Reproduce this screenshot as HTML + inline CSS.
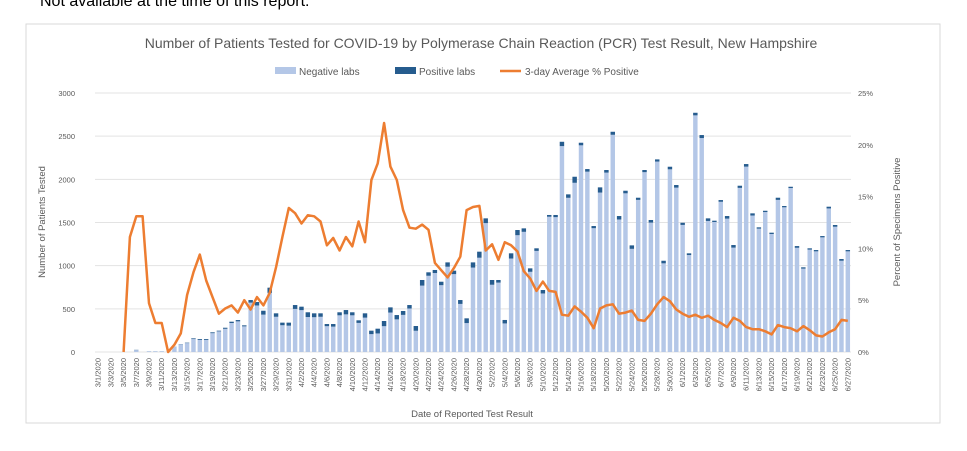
<!DOCTYPE html>
<html><head><meta charset="utf-8"><style>
body{margin:0;background:#fff;width:967px;height:451px;overflow:hidden;font-family:"Liberation Sans",sans-serif;}
svg{position:absolute;left:0;top:0}
</style></head><body>
<svg id="c" width="967" height="451" font-family="Liberation Sans, sans-serif">
<text x="40" y="6" font-size="16" fill="#000">Not available at the time of this report.</text>
<rect x="26" y="24" width="914" height="399" fill="#fff" stroke="#d9d9d9"/>
<text x="481" y="48" font-size="14" fill="#595959" text-anchor="middle">Number of Patients Tested for COVID-19 by Polymerase Chain Reaction (PCR) Test Result, New Hampshire</text>
<g>
<rect x="275" y="67" width="21" height="7" fill="#b4c7e7"/>
<text x="299" y="75" font-size="10" fill="#595959">Negative labs</text>
<rect x="395" y="67" width="21" height="7" fill="#265c8e"/>
<text x="419" y="75" font-size="10" fill="#595959">Positive labs</text>
<line x1="500" y1="71" x2="521" y2="71" stroke="#ed7d31" stroke-width="2.5"/>
<text x="525" y="75" font-size="10" fill="#595959">3-day Average % Positive</text>
</g>
<text transform="translate(45,222) rotate(-90)" font-size="9.5" fill="#595959" text-anchor="middle">Number of Patients Tested</text>
<text transform="translate(900,222) rotate(-90)" font-size="9.5" fill="#595959" text-anchor="middle">Percent of Specimens Positive</text>
<text x="472" y="417" font-size="9.5" fill="#595959" text-anchor="middle">Date of Reported Test Result</text>
<g id="grid"></g><g id="bars"></g><g id="line"></g><g id="ticks"></g>
</svg>
<script>
const totals=[0,0,0,0,0,0,25,0,8,8,8,0,
60,90,108,158,150,150,228,247,281,351,370,309,
602,579,478,745,448,340,340,544,525,460,448,448,324,324,460,486,460,367,448,247,270,359,517,428,475,544,301,
834,923,950,814,1038,942,602,390,1038,1162,1548,834,834,371,1143,1413,1432,969,1201,718,1587,1587,2435,1826,2030,2424,2119,1459,1907,2108,2551,1575,1868,1235,1787,2108,1529,2231,1057,2146,1934,1497,1143,2771,2513,
1548,1521,1760,1575,1239,1926,2177,1606,1444,1636,1382,1787,1691,1914,1227,981,1201,1181,1343,1683,1471,1077,1181];
const positives=[0,0,0,0,0,0,3,0,1,1,1,0,
2,3,5,8,10,10,10,8,12,15,15,12,
30,40,45,60,40,30,35,45,40,55,45,40,25,30,35,50,35,30,50,40,55,60,60,50,45,40,55,
65,40,35,40,50,40,45,55,60,70,55,55,30,40,60,60,40,40,30,40,20,25,
50,40,70,30,30,25,60,30,35,40,30,40,25,25,30,25,30,30,30,25,20,30,35,
30,15,20,30,30,25,30,25,15,15,15,25,15,15,20,15,15,15,15,20,20,20,15];
const pctAvg=[null,null,null,null,0,11.1,13.1,13.1,4.7,2.8,2.8,0,
0.7,1.8,5.5,7.7,9.4,6.9,5.3,3.7,4.2,4.5,3.8,5.0,4.1,5.3,4.5,5.7,8.2,11.1,13.9,13.4,12.4,13.2,13.1,12.6,10.3,11.0,9.8,11.1,10.2,12.6,10.6,16.6,18.2,22.1,17.9,16.6,13.7,12.0,11.9,
12.3,11.8,8.6,7.9,7.2,8.1,9.2,13.7,14.0,14.1,9.8,10.4,8.9,10.6,10.3,9.7,7.8,7.1,5.9,6.8,5.9,5.8,3.6,3.5,4.4,3.9,3.3,2.3,4.2,4.5,4.6,3.7,3.8,4.0,3.1,3.0,3.7,4.6,5.3,4.9,4.1,3.7,3.4,3.6,3.3,
3.5,3.1,2.8,2.4,3.3,3.0,2.4,2.2,2.2,2.0,1.7,2.6,2.4,2.3,2.0,2.5,2.1,1.6,1.5,1.9,2.2,3.1,3.0];
const leftTicks=[0,500,1000,1500,2000,2500,3000];
const rightTicks=[0,5,10,15,20,25];
const startDate=[2020,3,1];
const categories=totals.map((_,i)=>{const d=new Date(startDate[0],startDate[1]-1,startDate[2]+i);return (d.getMonth()+1)+'/'+d.getDate()+'/'+d.getFullYear();});

const NS='http://www.w3.org/2000/svg';
const L=95,R=851,Y0=352,Y1=93;
const band=(R-L)/totals.length;
const xC=i=>L+band*(i+0.5);
const yL=v=>Y0-(v/3000)*(Y0-Y1);
const yR=p=>Y0-(p/25)*(Y0-Y1);
function mk(tag,attrs,parent){const e=document.createElementNS(NS,tag);for(const k in attrs)e.setAttribute(k,attrs[k]);parent.appendChild(e);return e;}
const grid=document.getElementById('grid'),bars=document.getElementById('bars'),line=document.getElementById('line'),ticks=document.getElementById('ticks');
leftTicks.forEach(v=>{
  const g=mk('line',{x1:L,x2:R,y1:yL(v),y2:yL(v),stroke:'#e3e3e3','stroke-width':1},grid);
  
  
  const t=mk('text',{x:75,y:yL(v)+3,'font-size':7.5,fill:'#595959','text-anchor':'end'},ticks);
  t.textContent=v;
  
  
});
rightTicks.forEach(p=>{
  const t=mk('text',{x:858,y:yR(p)+3,'font-size':7.5,fill:'#595959'},ticks);
  t.textContent=p+'%';
  
  
});
const bw=band*0.7;
totals.forEach((tot,i)=>{
  const pos=positives[i],neg=tot-pos;
  if(neg>0){const r=mk('rect',{x:xC(i)-bw/2,y:yL(neg),width:bw,height:Y0-yL(neg),fill:'#b4c7e7'},bars);
  
  }
  if(pos>0){const r=mk('rect',{x:xC(i)-bw/2,y:yL(tot),width:bw,height:yL(neg)-yL(tot),fill:'#265c8e'},bars);
  
  }
});
categories.forEach((c,i)=>{
  if(i%2)return;
  const t=mk('text',{transform:`translate(${xC(i)+2.5},358) rotate(-90)`,'font-size':7.5,fill:'#595959','text-anchor':'end'},ticks);
  t.textContent=c;
  
  
});
let d='';
pctAvg.forEach((p,i)=>{if(p===null)return;d+=(d?'L':'M')+xC(i).toFixed(1)+','+yR(p).toFixed(1);});
const pl=mk('path',{d:d,fill:'none',stroke:'#ed7d31','stroke-width':2.5,'stroke-linejoin':'round'},line);


</script>
</body></html>
